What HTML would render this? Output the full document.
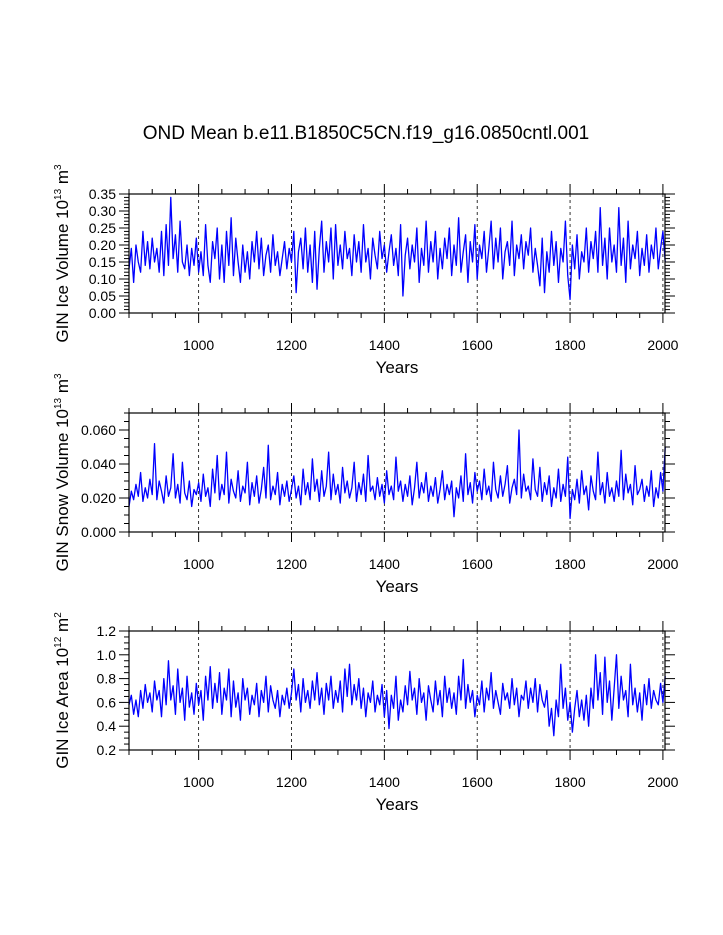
<!DOCTYPE html>
<html><head><meta charset="utf-8"><style>
body{margin:0;background:#fff;}
svg{display:block;font-family:"Liberation Sans",Arial,sans-serif;}
</style></head><body>
<svg id="chart" width="723" height="935">
<text x="366" y="139" font-size="19" text-anchor="middle">OND Mean b.e11.B1850C5CN.f19_g16.0850cntl.001</text>
</svg>
<script>
const startYear = 850;
const stepYears = 5;
const iceVolume = [
0.13,0.19,0.09,0.20,0.15,0.12,0.24,0.14,0.21,0.13,
0.22,0.15,0.19,0.12,0.24,0.11,0.26,0.14,0.34,0.16,
0.23,0.12,0.27,0.15,0.13,0.20,0.11,0.19,0.14,0.22,
0.12,0.18,0.11,0.26,0.14,0.09,0.21,0.16,0.25,0.10,
0.20,0.09,0.24,0.14,0.28,0.11,0.22,0.15,0.09,0.20,
0.12,0.18,0.10,0.21,0.15,0.24,0.13,0.22,0.11,0.17,
0.20,0.12,0.23,0.14,0.18,0.11,0.16,0.21,0.13,0.19,
0.15,0.24,0.06,0.18,0.22,0.13,0.25,0.12,0.20,0.09,
0.24,0.07,0.19,0.27,0.12,0.21,0.15,0.25,0.10,0.26,
0.14,0.20,0.13,0.24,0.16,0.19,0.11,0.23,0.15,0.21,
0.12,0.26,0.15,0.19,0.10,0.22,0.17,0.13,0.24,0.16,
0.20,0.12,0.18,0.23,0.14,0.19,0.11,0.26,0.05,0.17,
0.22,0.13,0.20,0.15,0.25,0.09,0.19,0.14,0.27,0.12,
0.21,0.15,0.24,0.10,0.19,0.13,0.22,0.16,0.25,0.11,
0.20,0.14,0.28,0.12,0.18,0.23,0.09,0.21,0.15,0.26,
0.10,0.20,0.16,0.24,0.12,0.19,0.27,0.13,0.22,0.15,
0.25,0.10,0.18,0.21,0.14,0.27,0.11,0.20,0.16,0.23,
0.13,0.21,0.17,0.25,0.12,0.19,0.14,0.08,0.22,0.06,
0.18,0.12,0.24,0.14,0.21,0.09,0.19,0.15,0.27,0.11,
0.04,0.20,0.13,0.23,0.10,0.18,0.15,0.25,0.12,0.21,
0.16,0.24,0.12,0.31,0.14,0.22,0.10,0.25,0.15,0.20,
0.12,0.31,0.14,0.22,0.09,0.27,0.13,0.20,0.16,0.24,
0.11,0.19,0.14,0.23,0.12,0.20,0.16,0.25,0.13,0.19,
0.24,0.15];
const snowVolume = [
0.015,0.024,0.019,0.028,0.021,0.035,0.018,0.026,0.020,0.031,
0.022,0.052,0.019,0.030,0.024,0.017,0.033,0.021,0.026,0.046,
0.020,0.028,0.017,0.041,0.023,0.019,0.030,0.015,0.025,0.022,
0.029,0.018,0.034,0.021,0.026,0.015,0.037,0.023,0.045,0.019,
0.028,0.022,0.047,0.017,0.031,0.024,0.020,0.036,0.018,0.027,
0.023,0.041,0.016,0.029,0.021,0.033,0.017,0.025,0.038,0.020,
0.051,0.019,0.027,0.022,0.035,0.016,0.028,0.021,0.030,0.018,
0.025,0.033,0.020,0.027,0.016,0.037,0.022,0.029,0.019,0.043,
0.024,0.031,0.018,0.036,0.021,0.027,0.047,0.019,0.034,0.022,
0.028,0.017,0.038,0.023,0.030,0.020,0.026,0.041,0.018,0.029,
0.022,0.034,0.018,0.045,0.024,0.027,0.019,0.032,0.021,0.028,
0.017,0.036,0.022,0.027,0.019,0.044,0.024,0.030,0.018,0.028,
0.021,0.033,0.016,0.026,0.041,0.020,0.029,0.023,0.035,0.018,
0.027,0.021,0.032,0.017,0.025,0.036,0.019,0.028,0.022,0.030,
0.009,0.026,0.020,0.033,0.018,0.046,0.022,0.029,0.017,0.035,
0.024,0.030,0.019,0.037,0.022,0.027,0.018,0.041,0.025,0.020,
0.033,0.021,0.028,0.039,0.017,0.026,0.031,0.022,0.060,0.020,
0.034,0.024,0.027,0.019,0.043,0.025,0.021,0.038,0.018,0.029,
0.022,0.033,0.015,0.026,0.020,0.037,0.018,0.028,0.021,0.044,
0.008,0.025,0.019,0.031,0.017,0.036,0.022,0.027,0.013,0.033,
0.024,0.019,0.047,0.022,0.029,0.017,0.035,0.021,0.026,0.018,
0.030,0.021,0.048,0.019,0.034,0.023,0.028,0.016,0.039,0.022,
0.025,0.031,0.018,0.027,0.021,0.036,0.015,0.026,0.020,0.035,
0.024,0.050];
const iceArea = [
0.58,0.66,0.50,0.62,0.48,0.70,0.55,0.75,0.60,0.68,
0.52,0.78,0.62,0.70,0.48,0.80,0.58,0.95,0.62,0.74,
0.50,0.88,0.60,0.72,0.45,0.82,0.56,0.68,0.50,0.76,
0.58,0.70,0.45,0.82,0.62,0.90,0.55,0.76,0.60,0.85,
0.50,0.72,0.62,0.88,0.48,0.78,0.56,0.68,0.45,0.80,
0.62,0.72,0.50,0.66,0.58,0.76,0.48,0.70,0.60,0.82,
0.52,0.74,0.62,0.55,0.70,0.48,0.66,0.58,0.72,0.55,
0.68,0.88,0.62,0.75,0.52,0.80,0.60,0.70,0.55,0.78,
0.62,0.85,0.58,0.72,0.50,0.76,0.62,0.82,0.55,0.70,
0.60,0.78,0.52,0.88,0.65,0.92,0.58,0.75,0.62,0.80,
0.55,0.72,0.48,0.68,0.60,0.78,0.52,0.66,0.58,0.75,
0.48,0.70,0.38,0.66,0.55,0.82,0.45,0.62,0.52,0.74,
0.58,0.86,0.62,0.72,0.50,0.80,0.60,0.68,0.45,0.74,
0.62,0.52,0.78,0.58,0.70,0.48,0.82,0.60,0.72,0.55,
0.68,0.50,0.82,0.62,0.96,0.55,0.75,0.60,0.70,0.48,
0.66,0.58,0.78,0.52,0.72,0.62,0.85,0.55,0.70,0.60,
0.50,0.76,0.62,0.68,0.55,0.80,0.58,0.72,0.48,0.66,
0.62,0.78,0.55,0.72,0.60,0.80,0.52,0.75,0.62,0.56,
0.70,0.40,0.55,0.32,0.62,0.48,0.92,0.55,0.72,0.45,
0.60,0.35,0.55,0.70,0.48,0.62,0.45,0.66,0.40,0.72,
0.55,1.00,0.62,0.85,0.50,0.98,0.60,0.78,0.45,0.72,
1.00,0.55,0.82,0.62,0.70,0.48,0.92,0.58,0.72,0.52,
0.68,0.45,0.75,0.58,0.80,0.55,0.70,0.62,0.58,0.76,
0.60,0.82];
const xTickYears = [1000,1200,1400,1600,1800,2000];
const iceVolTicks = ["0.00","0.05","0.10","0.15","0.20","0.25","0.30","0.35"];
const snowTicks = ["0.000","0.020","0.040","0.060"];
const areaTicks = ["0.2","0.4","0.6","0.8","1.0","1.2"];

const NS = "http://www.w3.org/2000/svg";
const svg = document.getElementById('chart');
const X0 = 129, X1 = 665, YR0 = 850, YR1 = 2004.5;
function xScale(yr){ return X0 + (yr - YR0) / (YR1 - YR0) * (X1 - X0); }
function mk(tag, attrs, parent){ const e = document.createElementNS(NS, tag); for (const k in attrs) e.setAttribute(k, attrs[k]); (parent||svg).appendChild(e); return e; }

function panel(cfg){
  const g = mk('g', {});
  
  
  const yScale = v => cfg.bot - (v - cfg.min) / (cfg.max - cfg.min) * (cfg.bot - cfg.top);
  xTickYears.forEach(yr => {
    const gl = mk('line', {x1:xScale(yr), x2:xScale(yr), y1:cfg.top, y2:cfg.bot, stroke:'#000', 'stroke-width':0.8, 'stroke-dasharray':'3,3'}, g);
    
    
  });
  let d = '';
  cfg.data.forEach((v, i) => { const yr = startYear + i * stepYears; d += (i ? 'L' : 'M') + xScale(yr).toFixed(2) + ',' + yScale(v).toFixed(2); });
  const p = mk('path', {d:d, fill:'none', stroke:'#0000ff', 'stroke-width':1.3, 'stroke-linejoin':'round'}, g);
  
  
  const fr = mk('rect', {x:X0, y:cfg.top, width:X1-X0, height:cfg.bot-cfg.top, fill:'none', stroke:'#000', 'stroke-width':1.2}, g);
  
  
  for (let yr = 850; yr <= 2000; yr += 50) {
    const L = (yr % 200 === 0) ? 10 : 5;
    mk('line', {x1:xScale(yr), x2:xScale(yr), y1:cfg.bot, y2:cfg.bot+L, stroke:'#000', 'stroke-width':1}, g);
    mk('line', {x1:xScale(yr), x2:xScale(yr), y1:cfg.top, y2:cfg.top-L, stroke:'#000', 'stroke-width':1}, g);
  }
  xTickYears.forEach(yr => {
    const t = mk('text', {x:xScale(yr), y:cfg.bot+37, 'font-size':14, 'text-anchor':'middle'}, g);
    t.textContent = yr;
    
    
  });
  const xt = mk('text', {x:397, y:cfg.bot+60, 'font-size':17, 'text-anchor':'middle'}, g);
  xt.textContent = 'Years';
  
  
  for (let v = cfg.min; v <= cfg.max + 1e-9; v += cfg.minor) {
    const isMaj = Math.abs(((v - cfg.min) / cfg.major) - Math.round((v - cfg.min) / cfg.major)) < 1e-6;
    const L = isMaj ? 10 : 5, y = yScale(v);
    mk('line', {x1:X0, x2:X0-L, y1:y, y2:y, stroke:'#000', 'stroke-width':1}, g);
    mk('line', {x1:X1, x2:X1+L, y1:y, y2:y, stroke:'#000', 'stroke-width':1}, g);
  }
  cfg.ticks.forEach(lbl => {
    const t = mk('text', {x:X0-13, y:yScale(parseFloat(lbl))+5, 'font-size':14, 'text-anchor':'end'}, g);
    t.textContent = lbl;
    
    
  });
  const cy = (cfg.top + cfg.bot) / 2;
  const yt = mk('text', {x:0, y:0, 'font-size':17, 'text-anchor':'middle', transform:'translate(68,'+cy+') rotate(-90)'}, g);
  yt.innerHTML = cfg.title + ' 10<tspan dy="-7" font-size="10">' + cfg.exp + '</tspan><tspan dy="7"> m</tspan><tspan dy="-7" font-size="10">' + cfg.unitExp + '</tspan>';
  
  
}

panel({name:'ice-volume-panel', data:iceVolume, top:194, bot:313, min:0, max:0.35, major:0.05, minor:0.01, ticks:iceVolTicks, title:'GIN Ice Volume', exp:'13', unitExp:'3'});
panel({name:'snow-volume-panel', data:snowVolume, top:413, bot:532, min:0, max:0.07, major:0.02, minor:0.005, ticks:snowTicks, title:'GIN Snow Volume', exp:'13', unitExp:'3'});
panel({name:'ice-area-panel', data:iceArea, top:631, bot:750, min:0.2, max:1.2, major:0.2, minor:0.05, ticks:areaTicks, title:'GIN Ice Area', exp:'12', unitExp:'2'});
</script>
</body></html>
